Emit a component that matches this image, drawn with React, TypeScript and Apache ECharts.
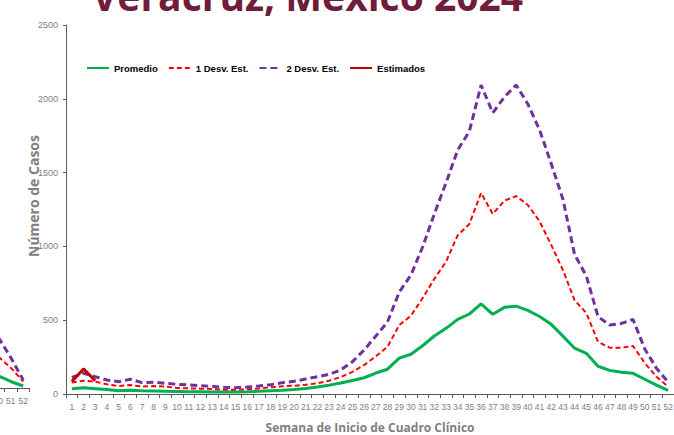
import React, { useEffect, useRef } from "react";
import * as echarts from "echarts";

const weeks = ["1","2","3","4","5","6","7","8","9","10","11","12","13","14","15","16","17","18","19","20","21","22","23","24","25","26","27","28","29","30","31","32","33","34","35","36","37","38","39","40","41","42","43","44","45","46","47","48","49","50","51","52"];

const promedio = [36,42,36,30,22,25,22,20,18,17,16,15,14,14,14,15,18,22,25,30,38,48,60,75,92,110,142,168,243,269,327,393,445,506,542,610,540,587,595,567,525,472,392,310,276,188,160,147,140,100,60,25];
const desv1 = [77,90,83,66,54,61,50,54,50,41,38,36,34,29,29,32,38,45,52,56,63,72,90,115,150,196,255,320,467,530,650,779,896,1075,1152,1362,1220,1310,1341,1280,1170,1010,840,635,549,354,314,314,325,210,117,50];
const desv2 = [113,140,117,95,83,100,77,80,72,66,61,56,52,45,43,47,54,63,77,86,102,117,133,163,219,298,393,488,690,806,996,1220,1430,1653,1780,2093,1905,2013,2093,1965,1790,1560,1320,945,800,525,467,478,505,305,175,80];
const estimados = [85,170,90];

const yTicks = { min: 0, max: 2500, interval: 500 };

// neighbouring chart (only its right edge is visible)
const prevWeeks = ["50","51","52"];
const prevPromedio = [83,45,14];
const prevDesv1 = [216,140,45];
const prevDesv2 = [350,210,55];

const GREEN = "#00B050";
const RED = "#FF0000";
const PURPLE = "#7030A0";
const DARKRED = "#C00000";
const GRAY = "#808080";
const AXIS = "#595959";
const NARROW = "'Liberation Sans Narrow', 'Liberation Sans', Arial, sans-serif";

export default function App() {
  const ref = useRef<HTMLDivElement>(null);
  useEffect(() => {
    if (!ref.current) return;
    const chart = echarts.init(ref.current, null, { renderer: "svg" });
    const lineBase = { type: "line", symbol: "none", showSymbol: false, smooth: false, itemStyle: { opacity: 0 } };
    const xLabel = { interval: 0, color: GRAY, fontFamily: NARROW, fontSize: 8.5, margin: 8 };
    chart.setOption({
      animation: false,
      backgroundColor: "#ffffff",
      legend: {
        data: ["Promedio", "1 Desv. Est.", "2 Desv. Est.", "Estimados"],
        left: 86,
        top: 63,
        padding: 0,
        itemWidth: 22,
        itemHeight: 10,
        itemGap: 10,
        itemStyle: { opacity: 0 },
        textStyle: { fontFamily: NARROW, fontWeight: "bold", fontSize: 9.5, color: "#000" },
      },
      grid: [
        { left: 66, right: 0, top: 25, bottom: 41, outerBoundsMode: "none", containLabel: false },
        { left: -8, width: 37.5, top: 25, bottom: 47, outerBoundsMode: "none", containLabel: false },
      ],
      xAxis: [
        {
          type: "category",
          gridIndex: 0,
          data: weeks,
          boundaryGap: true,
          axisLine: { lineStyle: { color: AXIS, width: 1 } },
          axisTick: { show: true, length: 4, lineStyle: { color: AXIS } },
          axisLabel: xLabel,
        },
        {
          type: "category",
          gridIndex: 1,
          data: prevWeeks,
          boundaryGap: true,
          axisLine: { lineStyle: { color: AXIS, width: 1 } },
          axisTick: { show: true, length: 4, lineStyle: { color: AXIS } },
          axisLabel: xLabel,
        },
      ],
      yAxis: [
        {
          type: "value",
          gridIndex: 0,
          min: yTicks.min,
          max: yTicks.max,
          interval: yTicks.interval,
          splitLine: { show: false },
          axisLine: { show: true, lineStyle: { color: AXIS, width: 1 } },
          axisTick: { show: true, length: 3, lineStyle: { color: AXIS } },
          axisLabel: { color: GRAY, fontFamily: NARROW, fontSize: 9, margin: 8, formatter: (v: number) => String(v) },
        },
        {
          type: "value",
          gridIndex: 1,
          min: yTicks.min,
          max: yTicks.max,
          show: false,
          splitLine: { show: false },
        },
      ],
      graphic: [
        {
          type: "text",
          left: 92,
          top: -24,
          style: {
            text: "Veracruz, México 2024",
            fontFamily: "'Open Sans', sans-serif",
            fontWeight: "bold",
            fontSize: 39,
            fill: "#6F1D3A",
          },
        },
        {
          type: "text",
          x: 33,
          y: 196,
          rotation: Math.PI / 2,
          style: {
            text: "Número de Casos",
            fontFamily: "'Open Sans', sans-serif",
            fontWeight: "bold",
            fontSize: 14,
            fill: GRAY,
            align: "center",
            verticalAlign: "middle",
          },
        },
        {
          type: "text",
          x: 370,
          y: 421,
          style: {
            text: "Semana de Inicio de Cuadro Clínico",
            fontFamily: "'Open Sans', sans-serif",
            fontWeight: "bold",
            fontSize: 12,
            fill: GRAY,
            align: "center",
            verticalAlign: "top",
          },
        },
      ],
      series: [
        { ...lineBase, name: "Promedio", data: promedio, color: GREEN, lineStyle: { color: GREEN, width: 3 }, z: 3 },
        { ...lineBase, name: "1 Desv. Est.", data: desv1, color: RED, lineStyle: { color: RED, width: 2, type: [5, 3] }, z: 4 },
        { ...lineBase, name: "2 Desv. Est.", data: desv2, color: PURPLE, lineStyle: { color: PURPLE, width: 3, type: [7, 4] }, z: 5 },
        { ...lineBase, name: "Estimados", data: estimados, color: DARKRED, lineStyle: { color: DARKRED, width: 3 }, z: 6 },
        { ...lineBase, name: "p0", xAxisIndex: 1, yAxisIndex: 1, data: prevPromedio, lineStyle: { color: GREEN, width: 3 } },
        { ...lineBase, name: "p1", xAxisIndex: 1, yAxisIndex: 1, data: prevDesv1, lineStyle: { color: RED, width: 2, type: [5, 3] } },
        { ...lineBase, name: "p2", xAxisIndex: 1, yAxisIndex: 1, data: prevDesv2, lineStyle: { color: PURPLE, width: 3, type: [7, 4] } },
      ],
    });
    return () => chart.dispose();
  }, []);
  return (
    <div
      ref={ref}
      style={{ position: "fixed", left: 0, top: 0, width: 674, height: 435 }}
    />
  );
}
